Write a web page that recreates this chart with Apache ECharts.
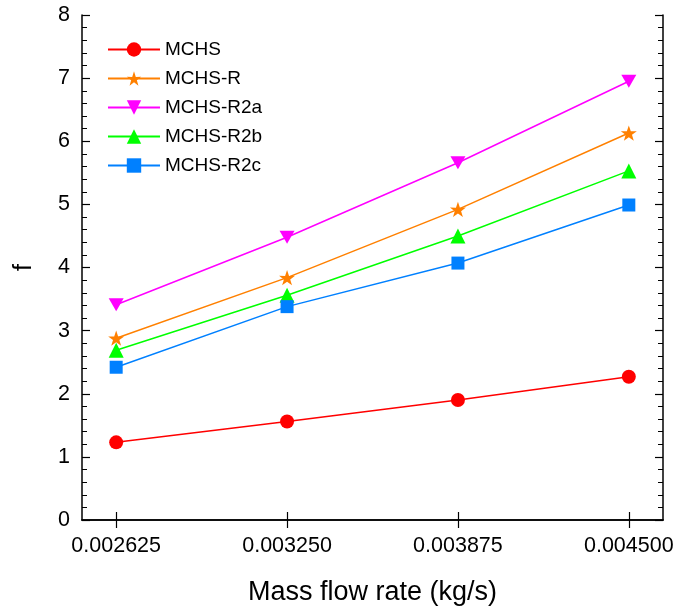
<!DOCTYPE html>
<html>
<head>
<meta charset="utf-8">
<script src="https://cdn.jsdelivr.net/npm/echarts@6/dist/echarts.min.js"></script>
<style>html,body{margin:0;padding:0;background:#fff;}#c{width:676px;height:610px;}</style>
</head>
<body>
<div id="c"></div>
<script>
const xValues = [0.002625, 0.003250, 0.003875, 0.004500];
const seriesNames = ['MCHS', 'MCHS-R', 'MCHS-R2a', 'MCHS-R2b', 'MCHS-R2c'];
const mchs   = [1.23, 1.56, 1.90, 2.27];
const mchsR  = [2.88, 3.84, 4.92, 6.13];
const mchsR2a = [3.41, 4.48, 5.66, 6.95];
const mchsR2b = [2.69, 3.56, 4.50, 5.53];
const mchsR2c = [2.42, 3.38, 4.07, 4.99];
const yTicks = [0, 1, 2, 3, 4, 5, 6, 7, 8];

const colors = ['#ff0000', '#ff8000', '#ff00ff', '#00ff00', '#0080ff'];
const starPath = 'path://M50,0 L61.8,35.1 L97.6,34.5 L68.8,56.0 L79.4,90.5 L50,69.6 L20.6,90.5 L31.2,56.0 L2.4,34.5 L38.2,35.1 Z';
const downTri = 'path://M0,0 L100,0 L50,86.6 Z';
const symbols = ['circle', starPath, downTri, 'triangle', 'rect'];
const sizes = [14, 16, 15, 15, 13];
const allData = [mchs, mchsR, mchsR2a, mchsR2b, mchsR2c];
const FONT = 'Liberation Sans, Arial, sans-serif';

const chart = echarts.init(document.getElementById('c'), null, {renderer: 'canvas'});
const axisLineStyle = {color: '#000', width: 1.5};

const option = {
  animation: false,
  backgroundColor: '#fff',
  grid: {left: 82, right: 13, top: 15, bottom: 90, containLabel: false, outerBoundsMode: 'none'},
  legend: {
    left: 102, top: 35, orient: 'vertical',
    itemWidth: 52, itemHeight: 18, itemGap: 10, itemTextGap: 12,
    textStyle: {fontFamily: FONT, fontSize: 19, color: '#000', lineHeight: 16},
    data: seriesNames
  },
  xAxis: [{
    type: 'value', min: 0.0025, max: 0.004625, position: 'bottom',
    name: 'Mass flow rate (kg/s)', nameLocation: 'middle', nameGap: 59,
    nameTextStyle: {fontFamily: FONT, fontSize: 27, color: '#000'},
    axisLine: {show: true, lineStyle: axisLineStyle},
    axisTick: {show: true, inside: true, length: 8, customValues: xValues, lineStyle: {color: '#000', width: 1.2}},
    axisLabel: {customValues: xValues, formatter: v => v.toFixed(6), fontFamily: FONT, fontSize: 21.5, color: '#000', margin: 15},
    splitLine: {show: false}
  }, {
    type: 'value', min: 0.0025, max: 0.004625, position: 'top',
    axisLine: {show: true, lineStyle: axisLineStyle},
    axisTick: {show: true, inside: true, length: 8, customValues: xValues, lineStyle: {color: '#000', width: 1.2}},
    axisLabel: {show: false, customValues: xValues},
    splitLine: {show: false}
  }],
  yAxis: [{
    type: 'value', min: 0, max: 8, interval: 1, position: 'left',
    name: 'f', nameLocation: 'middle', nameGap: 45,
    nameTextStyle: {fontFamily: FONT, fontSize: 25, color: '#000'},
    axisLine: {show: true, lineStyle: axisLineStyle},
    axisTick: {show: true, inside: true, length: 8, lineStyle: {color: '#000', width: 1.2}},
    minorTick: {show: true, splitNumber: 5, length: 5, lineStyle: {color: '#000', width: 1}},
    axisLabel: {fontFamily: FONT, fontSize: 21.5, color: '#000', margin: 12},
    splitLine: {show: false}, minorSplitLine: {show: false}
  }, {
    type: 'value', min: 0, max: 8, interval: 1, position: 'right',
    axisLine: {show: true, lineStyle: axisLineStyle},
    axisTick: {show: true, inside: true, length: 8, lineStyle: {color: '#000', width: 1.2}},
    minorTick: {show: true, splitNumber: 5, length: 5, lineStyle: {color: '#000', width: 1}},
    axisLabel: {show: false},
    splitLine: {show: false}, minorSplitLine: {show: false}
  }],
  series: seriesNames.map((name, i) => ({
    name: name, type: 'line', xAxisIndex: 0, yAxisIndex: 0,
    data: xValues.map((x, j) => [x, allData[i][j]]),
    symbol: symbols[i], symbolSize: sizes[i], symbolKeepAspect: true,
    showAllSymbol: true,
    color: colors[i],
    itemStyle: {color: colors[i]},
    lineStyle: {color: colors[i], width: 1.5}
  }))
};
chart.setOption(option);
</script>
</body>
</html>
